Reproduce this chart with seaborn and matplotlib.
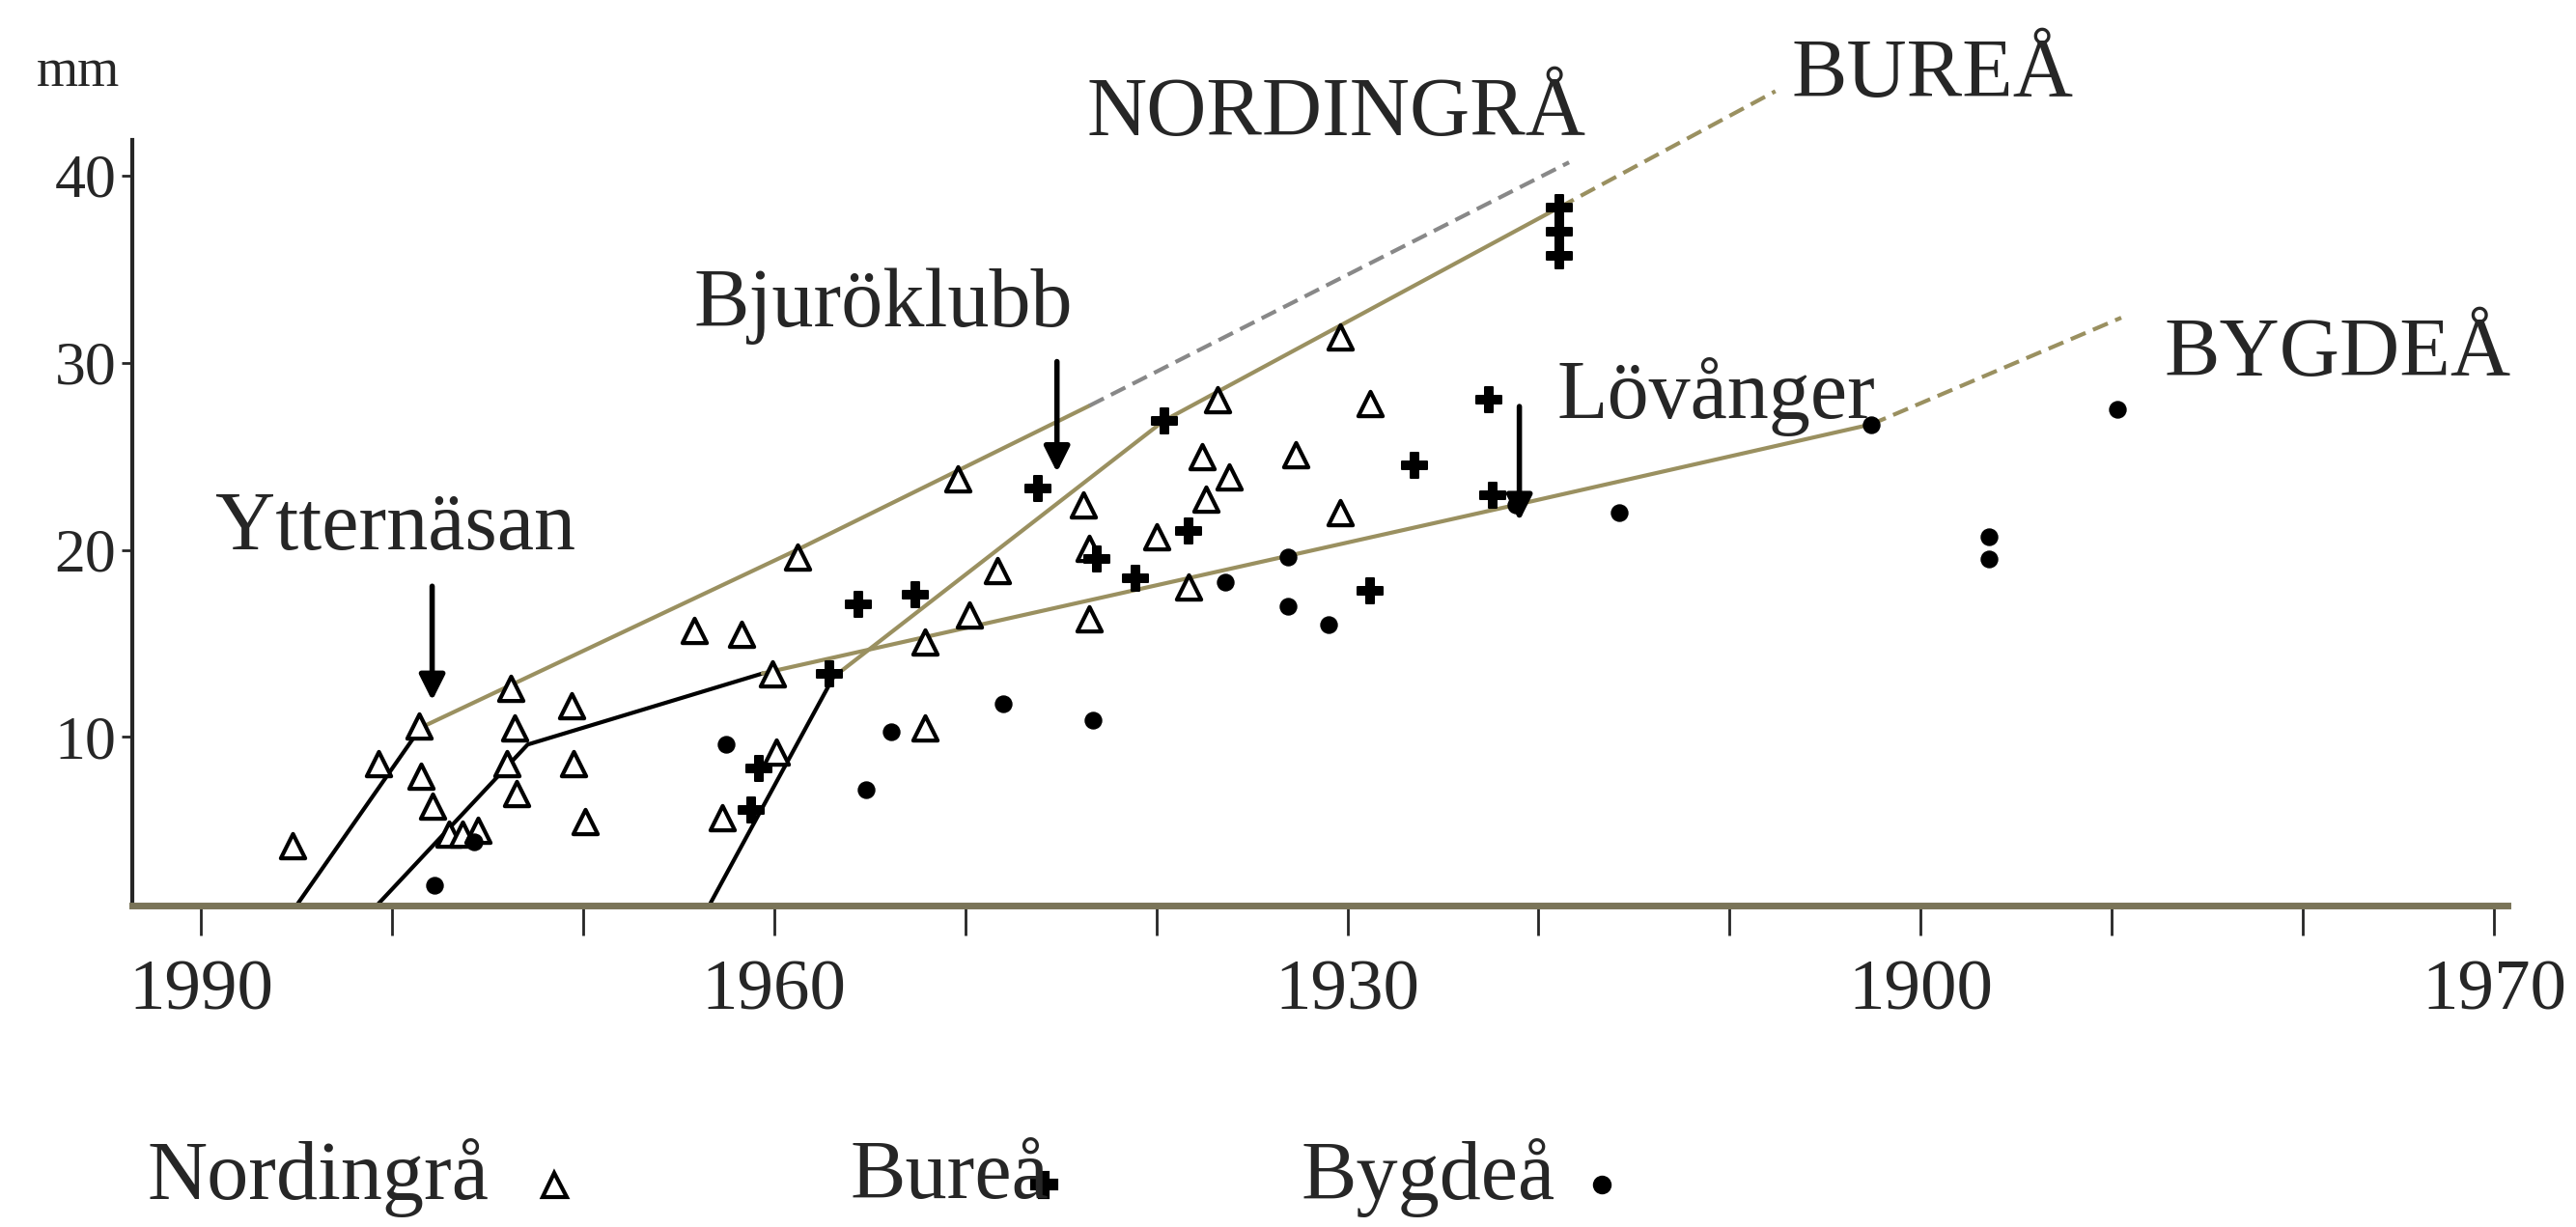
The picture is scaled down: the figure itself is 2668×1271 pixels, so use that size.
import matplotlib
matplotlib.use("Agg")
import matplotlib.pyplot as plt
import seaborn as sns
import pandas as pd
from matplotlib.lines import Line2D

# Nordingrå (triangles)
nord_year = [1985.2, 1980.7, 1978.6, 1978.5, 1977.9, 1977.0, 1976.3, 1975.5, 1973.8, 1973.6,
             1974.0, 1973.5, 1970.6, 1970.5, 1969.9, 1964.2, 1961.7, 1960.1, 1959.9, 1962.7,
             1958.8, 1950.4, 1952.1, 1952.1, 1949.8, 1948.3, 1943.8, 1943.5, 1943.5, 1940.0,
             1938.3, 1937.6, 1937.4, 1936.2, 1936.8, 1930.4, 1928.8, 1932.7, 1930.4]
nord_mm = [4.2, 8.6, 10.6, 7.9, 6.3, 4.8, 4.8, 5.0, 12.6, 10.5,
           8.6, 7.0, 11.7, 8.6, 5.5, 15.7, 15.5, 13.4, 9.2, 5.7,
           19.6, 23.8, 15.1, 10.5, 16.5, 18.9, 22.4, 20.1, 16.3, 20.7,
           18.0, 25.0, 22.7, 23.9, 28.0, 31.4, 27.8, 25.1, 22.0]
# Bureå (crosses)
bure_year = [1957.1, 1955.6, 1952.6, 1943.1, 1941.1, 1939.6, 1938.3, 1928.8, 1926.5,
             1922.6, 1922.4, 1918.9, 1918.9, 1918.9, 1960.8, 1961.2, 1946.2]
bure_mm = [13.4, 17.1, 17.6, 19.5, 18.5, 26.9, 21.0, 17.8, 24.5,
           28.0, 22.9, 38.3, 37.0, 35.7, 8.3, 6.1, 23.3]
# Bygdeå (dots)
bygd_year = [1977.8, 1975.7, 1962.5, 1955.2, 1953.9, 1948.0, 1943.3, 1936.4, 1933.1,
             1931.0, 1933.1, 1921.2, 1915.8, 1902.6, 1896.4, 1896.4, 1889.7]
bygd_mm = [2.1, 4.4, 9.6, 7.2, 10.3, 11.8, 10.9, 18.3, 17.0,
           16.0, 19.6, 22.4, 22.0, 26.7, 19.5, 20.7, 27.5]

# trend lines
nord_line_year = [1985.0, 1978.5, 1958.8, 1943.5]
nord_line_mm = [1.0, 10.5, 20.0, 27.7]
nord_dash_year = [1943.5, 1918.4]
nord_dash_mm = [27.7, 40.7]
bure_line_year = [1963.4, 1956.9, 1939.6, 1918.9]
bure_line_mm = [1.0, 13.2, 26.9, 38.3]
bure_dash_year = [1918.9, 1907.6]
bure_dash_mm = [38.3, 44.5]
bygd_line_year = [1980.8, 1972.9, 1960.6, 1921.2, 1902.6]
bygd_line_mm = [1.0, 9.6, 13.4, 22.4, 26.7]
bygd_dash_year = [1902.6, 1889.5]
bygd_dash_mm = [26.7, 32.4]

xticks_major = [1990, 1960, 1930, 1900, 1870]
xtick_labels = ["1990", "1960", "1930", "1900", "1970"]
yticks = [10, 20, 30, 40]

sns.set_style("white")
plt.rcParams['font.family'] = ['Liberation Serif', 'DejaVu Serif']

fig = plt.figure(figsize=(26.68, 12.71), dpi=100)
ax = fig.add_axes([0.0513, 0.262, 0.922, 0.624])

olive = '#9a9060'
def line(xs, ys, color, ls='-', lw=3):
    sns.lineplot(x=xs, y=ys, ax=ax, color=color, lw=lw, ls=ls, sort=False,
                 estimator=None, clip_on=False)

line(nord_line_year[:2], nord_line_mm[:2], 'black')
line(nord_line_year[1:], nord_line_mm[1:], olive)
line(nord_dash_year, nord_dash_mm, '#888888', ls=(0, (4, 2)))
line(bure_line_year[:2], bure_line_mm[:2], 'black')
line(bure_line_year[1:], bure_line_mm[1:], olive)
line(bure_dash_year, bure_dash_mm, olive, ls=(0, (4, 2)))
line(bygd_line_year[:3], bygd_line_mm[:3], 'black')
line(bygd_line_year[2:], bygd_line_mm[2:], olive)
line(bygd_dash_year, bygd_dash_mm, olive, ls=(0, (4, 2)))

sns.scatterplot(x=nord_year, y=nord_mm, ax=ax, marker='^', s=330, facecolor='white',
                edgecolor='black', linewidth=3, zorder=5)
sns.scatterplot(x=bure_year, y=bure_mm, ax=ax, marker='P', s=330, color='black',
                edgecolor='black', zorder=5)
sns.scatterplot(x=bygd_year, y=bygd_mm, ax=ax, marker='o', s=150, color='black',
                edgecolor='black', zorder=5)

ax.set_xlim(1993.6, 1869.3)
ax.set_ylim(1.0, 41.9)
ax.set_xticks(range(1870, 1991, 10))
ax.set_xticklabels([xtick_labels[xticks_major.index(t)] if t in xticks_major else ''
                    for t in range(1870, 1991, 10)])
ax.set_yticks(yticks)
ax.tick_params(axis='x', bottom=True, direction='out', length=22, width=2,
               labelsize=54, pad=18)
ax.tick_params(axis='y', left=True, direction='out', length=8, width=2,
               labelsize=46, pad=4)
sns.despine(ax=ax)
ax.spines['left'].set_linewidth(3)
ax.spines['bottom'].set_linewidth(5)
ax.spines['bottom'].set_color('#7a7458')
ax.text(-0.005, 1.07, 'mm', transform=ax.transAxes, fontsize=40, ha='right')

fs = 62
ax.text(1930.6, 43.2, 'NORDINGRÅ', fontsize=fs, ha='center', va='center', clip_on=False)
ax.text(1899.4, 45.3, 'BUREÅ', fontsize=fs, ha='center', va='center', clip_on=False)
ax.text(1878.2, 30.4, 'BYGDEÅ', fontsize=fs, ha='center', va='center')
ax.text(1910.7, 28.2, 'Lövånger', fontsize=fs, ha='center', va='center')
ax.text(1954.3, 33.0, 'Bjuröklubb', fontsize=fs, ha='center', va='center')
ax.text(1979.8, 21.1, 'Ytternäsan', fontsize=fs, ha='center', va='center')
arrow = dict(arrowstyle='-|>', color='black', lw=4, mutation_scale=40)
ax.annotate('', xy=(1977.9, 11.8), xytext=(1977.9, 18.2), arrowprops=arrow)
ax.annotate('', xy=(1945.2, 24.0), xytext=(1945.2, 30.2), arrowprops=arrow)
ax.annotate('', xy=(1921.0, 21.4), xytext=(1921.0, 27.8), arrowprops=arrow)

# legend under the axis
leg_y = 0.04
for label, xt, xm, mk, ms, mfc in [('Nordingrå', 0.057, 0.215, '^', 18, 'white'),
                                   ('Bureå', 0.33, 0.405, 'P', 18, 'black'),
                                   ('Bygdeå', 0.505, 0.622, 'o', 11, 'black')]:
    fig.text(xt, leg_y, label, fontsize=fs, va='center')
    fig.add_artist(Line2D([xm], [leg_y - 0.005], marker=mk, markersize=ms, mfc=mfc,
                          mec='black', mew=3, transform=fig.transFigure))

fig.savefig('out.png', dpi=100, facecolor='white')
